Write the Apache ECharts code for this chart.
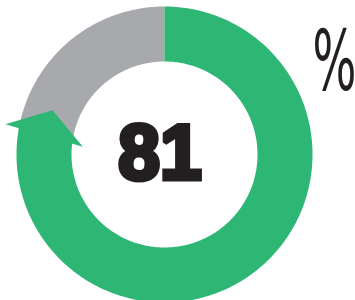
<!DOCTYPE html>
<html>
<head>
<meta charset="utf-8">
<script src="https://cdn.jsdelivr.net/npm/echarts@6/dist/echarts.min.js"></script>
<style>
  html, body { margin: 0; padding: 0; background: #fff; }
  #chart { width: 355px; height: 300px; }
</style>
</head>
<body>
<div id="chart"></div>
<script>
// 数据
const parts = ['score', 'rest'];
const shares = [81, 19];
const colors = ['#2db674', '#a7a9ac'];
const unitLabel = '%';

const outerR = 148;
const innerR = 93;
const arrowBack = 3.4;   // 箭头占用的百分比长度

const chart = echarts.init(document.getElementById('chart'));

// 沿圆环取点，画成多边形
function ringPoints (api, a0, a1, r0, r1) {
  const pts = [];
  const step = 0.25;
  for (let a = a0; a < a1; a += step) pts.push(api.coord([r1, a]));
  pts.push(api.coord([r1, a1]));
  for (let a = a1; a > a0; a -= step) pts.push(api.coord([r0, a]));
  pts.push(api.coord([r0, a0]));
  return pts;
}

const scoreEnd = shares[0];
const restEnd = shares[0] + shares[1];

const option = {
  animation: false,
  polar: { center: [164.5, 154.5], radius: outerR },
  angleAxis: { type: 'value', min: 0, max: restEnd, startAngle: 90, clockwise: true, show: false },
  radiusAxis: { type: 'value', min: 0, max: outerR, show: false },
  series: [
    {
      name: parts[1],
      type: 'custom',
      coordinateSystem: 'polar',
      z: 1,
      data: [[scoreEnd, restEnd]],
      renderItem: function (params, api) {
        const a0 = api.value(0) - arrowBack;
        const a1 = api.value(1);
        return {
          type: 'polygon',
          shape: { points: ringPoints(api, a0, a1, innerR, outerR) },
          style: { fill: colors[1] }
        };
      }
    },
    {
      name: parts[0],
      type: 'custom',
      coordinateSystem: 'polar',
      z: 2,
      data: [[0, scoreEnd]],
      renderItem: function (params, api) {
        const a0 = api.value(0);
        const tip = api.value(1);
        const bodyEnd = tip - arrowBack + 0.3;
        const mid = (innerR + outerR) / 2;
        return {
          type: 'group',
          children: [
            {
              type: 'polygon',
              shape: { points: ringPoints(api, a0, bodyEnd, innerR, outerR) },
              style: { fill: colors[0] }
            },
            {
              type: 'polygon',
              shape: {
                points: [
                  api.coord([outerR + 14, tip - 3.0]),
                  api.coord([mid, tip]),
                  api.coord([innerR - 11, tip - 4.5])
                ]
              },
              style: { fill: colors[0] }
            }
          ]
        };
      }
    }
  ],
  graphic: [
    {
      type: 'text',
      x: 160,
      y: 157,
      scaleX: 0.96,
      style: {
        text: String(shares[0]),
        font: 'bold 78px "Liberation Sans"',
        fill: '#231f20',
        stroke: '#231f20',
        lineWidth: 5,
        align: 'center',
        verticalAlign: 'middle'
      }
    },
    {
      type: 'text',
      x: 334.5,
      y: 68,
      scaleX: 0.55,
      style: {
        text: unitLabel,
        font: 'normal 84px "DejaVu Sans"',
        fill: '#231f20',
        align: 'center',
        verticalAlign: 'middle'
      }
    }
  ]
};

chart.setOption(option);
</script>
</body>
</html>
